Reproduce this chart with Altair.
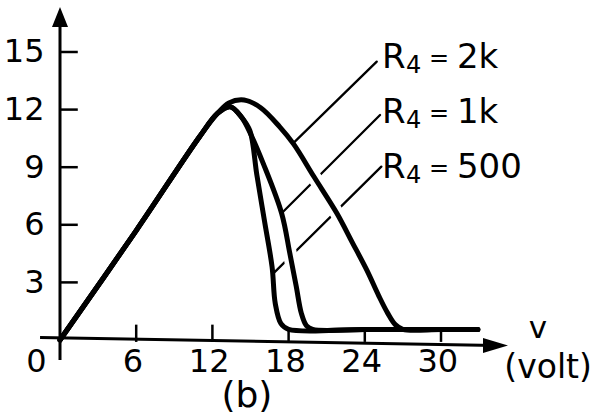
import altair as alt
import pandas as pd

# Current (mA) versus bias voltage v (volt) for three values of R4.
v_2k = [0, 6, 11, 12.4, 13.3, 14.5, 15.8, 17.3, 18.4, 20.0, 21.8, 23.0, 24.15, 25.1, 25.8, 26.4, 27.0, 30.0, 32.9]
i_2k = [0, 5.7, 10.6, 11.8, 12.35, 12.5, 12.1, 11.1, 10.2, 8.5, 6.6, 5.1, 3.65, 2.3, 1.4, 0.8, 0.55, 0.55, 0.55]
v_1k = [0, 6, 11, 12.4, 13.4, 14.3, 15.1, 16.0, 17.45, 18.1, 18.6, 19.0, 19.4, 19.9, 24.0, 30.0, 32.9]
i_1k = [0, 5.7, 10.6, 11.8, 12.15, 11.6, 10.6, 9.2, 6.6, 4.5, 2.8, 1.4, 0.75, 0.55, 0.55, 0.55, 0.55]
v_500 = [0, 6, 11, 12.4, 13.4, 14.3, 14.95, 15.5, 16.1, 16.7, 16.95, 17.4, 18.0, 24.0, 30.0, 32.9]
i_500 = [0, 5.7, 10.6, 11.8, 12.15, 11.6, 10.9, 8.6, 6.2, 3.8, 1.9, 0.85, 0.55, 0.55, 0.55, 0.55]

# Curve labels and their leader lines (label end -> curve end), in data units
r_names = ["2k", "1k", "500"]
r_texts = ["2k", "1k", "500"]
lead_v = [24.94, 25.2, 25.3]
lead_i = [14.5, 11.72, 9.03]
lead_v2 = [18.37, 17.45, 16.8]
lead_i2 = [10.25, 6.6, 3.47]
label_v = [25.35, 25.35, 25.35]
label_i = [14.17, 11.30, 8.44]

x_ticks = [6, 12, 18, 24, 30]
x_tick_labels = [0, 6, 12, 18, 24, 30]
y_ticks = [3, 6, 9, 12, 15]

FONT = "DejaVu Sans"
X_DOMAIN = [0, 42.913]
Y_DOMAIN = [0, 17.708]

curves = pd.concat([
    pd.DataFrame({"v": v_2k, "i": i_2k, "R": "2k"}),
    pd.DataFrame({"v": v_1k, "i": i_1k, "R": "1k"}),
    pd.DataFrame({"v": v_500, "i": i_500, "R": "500"}),
], ignore_index=True)
leaders = pd.DataFrame({"R": r_names, "v": lead_v, "i": lead_i, "v2": lead_v2, "i2": lead_i2})
labels = pd.DataFrame({"R": r_names, "txt": r_texts, "v": label_v, "i": label_i})
xt = pd.DataFrame({"t": x_ticks})
xl = pd.DataFrame({"t": x_tick_labels})
yt = pd.DataFrame({"t": y_ticks})

xs = alt.Scale(domain=X_DOMAIN, nice=False, zero=False)
ys = alt.Scale(domain=Y_DOMAIN, nice=False, zero=False)

# x labels are drawn as text marks below, so the x axis carries nothing visible
x_axis = alt.Axis(
    values=x_tick_labels, title=None, domain=False, ticks=False, grid=False, labels=False,
)
y_axis = alt.Axis(
    values=y_ticks, title=None, domain=False, ticks=False, grid=False,
    labelFont=FONT, labelFontSize=32, labelColor="black", labelPadding=16,
)


def curve_layer(names, **mark):
    return alt.Chart(curves).transform_filter(
        alt.FieldOneOfPredicate(field="R", oneOf=names)
    ).mark_line(interpolate="catmull-rom", **mark).encode(
        x=alt.X("v:Q", scale=xs, axis=x_axis),
        y=alt.Y("i:Q", scale=ys, axis=y_axis),
        detail="R:N",
    )


def leader_layer(name):
    return alt.Chart(leaders).transform_filter(alt.datum.R == name).mark_rule(
        color="black", strokeWidth=2.3, strokeCap="round"
    ).encode(x="v:Q", y="i:Q", x2="v2:Q", y2="i2:Q")


def seg(x1, y1, x2, y2, width):
    # a single straight stroke between two points given in data units
    return alt.Chart(xt.head(1)).transform_calculate(
        a=str(x1), b=str(y1), c=str(x2), d=str(y2)
    ).mark_rule(color="black", strokeWidth=width).encode(
        x="a:Q", y="b:Q", x2="c:Q", y2="d:Q"
    )


def spot(xv, yv, **mark):
    return alt.Chart(xt.head(1)).transform_calculate(
        a=str(xv), b=str(yv)
    ).mark_point(**mark).encode(x="a:Q", y="b:Q")


# White halos break the thin leaders where they pass under a curve
halo_1k = curve_layer(["1k"], color="white", strokeWidth=14)
halo_2k = curve_layer(["2k"], color="white", strokeWidth=14)
lines = curve_layer(["2k", "1k", "500"], color="black", strokeWidth=5, strokeCap="round")

# Axis lines with arrow heads, and inward tick marks
x_line = seg(-1.57, 0.13, 34.3, -0.29, 3)
y_line = seg(0, -1.04, 0, 16.5, 3)
x_arrow = spot(34.29, -0.29, shape="M1,0L-1,-0.6L-1,0.6Z", size=625,
               filled=True, color="black", opacity=1)
y_arrow = spot(0, 16.82, shape="M0,-1L0.8,1L-0.8,1Z", size=400,
               filled=True, color="black", opacity=1)
x_tick_marks = alt.Chart(xt).transform_calculate(
    bot="-0.1", top="datum.t < 18 ? 0.8 : 0.5"
).mark_rule(color="black", strokeWidth=2.5).encode(
    x="t:Q", y="bot:Q", y2="top:Q"
)
y_tick_marks = alt.Chart(yt).transform_calculate(
    left="0", right="1.4"
).mark_rule(color="black", strokeWidth=2.5).encode(
    y="t:Q", x="left:Q", x2="right:Q"
)

# x tick labels: the origin label sits left of the vertical axis
x_tick_text = alt.Chart(xl).transform_calculate(
    pos="datum.t === 0 ? -1.85 : datum.t - 0.25",
    base="-1.667",
    lab="datum.t + ''",
).mark_text(
    font=FONT, fontSize=32, baseline="alphabetic", align="center", color="black"
).encode(x="pos:Q", y="base:Q", text="lab:N")


# "R4= ..." labels: R, lowered subscript 4, equals sign, value
def label_piece(piece, size, dx, dy=0):
    base = alt.Chart(labels).mark_text(
        font=FONT, fontSize=size, align="left", baseline="alphabetic",
        dx=dx, dy=dy, color="black",
    )
    if piece == "txt":
        return base.encode(x="v:Q", y="i:Q", text="txt:N")
    return base.encode(x="v:Q", y="i:Q", text=alt.value(piece))


lab_R = label_piece("R", 34, 0)
lab_4 = label_piece("4", 24, 24, 5)
lab_eq = label_piece("=", 24, 47, -2)
lab_val = label_piece("txt", 34, 75)


def caption(txt, xv, yv, size):
    return alt.Chart(xt.head(1)).transform_calculate(
        a=str(xv), b=str(yv)
    ).mark_text(
        text=txt, font=FONT, fontSize=size, baseline="alphabetic",
        align="center", color="black",
    ).encode(x="a:Q", y="b:Q")


# Axis caption and panel tag
v_text = caption("v", 37.64, 0.08, 31)
volt_text = caption("(volt)", 38.43, -1.98, 33)
b_text = caption("(b)", 14.72, -3.49, 36)

chart = alt.layer(
    leader_layer("500"), halo_1k, leader_layer("1k"), halo_2k, leader_layer("2k"),
    lines, x_line, y_line, x_arrow, y_arrow, x_tick_marks, y_tick_marks, x_tick_text,
    lab_R, lab_4, lab_eq, lab_val, v_text, volt_text, b_text,
).properties(
    width=545, height=340,
    autosize=alt.AutoSizeParams(type="none"),
    padding={"left": 60, "top": 0, "right": 0, "bottom": 78},
    background="white",
).configure_view(stroke=None)

chart.save("out.html", embed_options={"renderer": "svg", "actions": False})
